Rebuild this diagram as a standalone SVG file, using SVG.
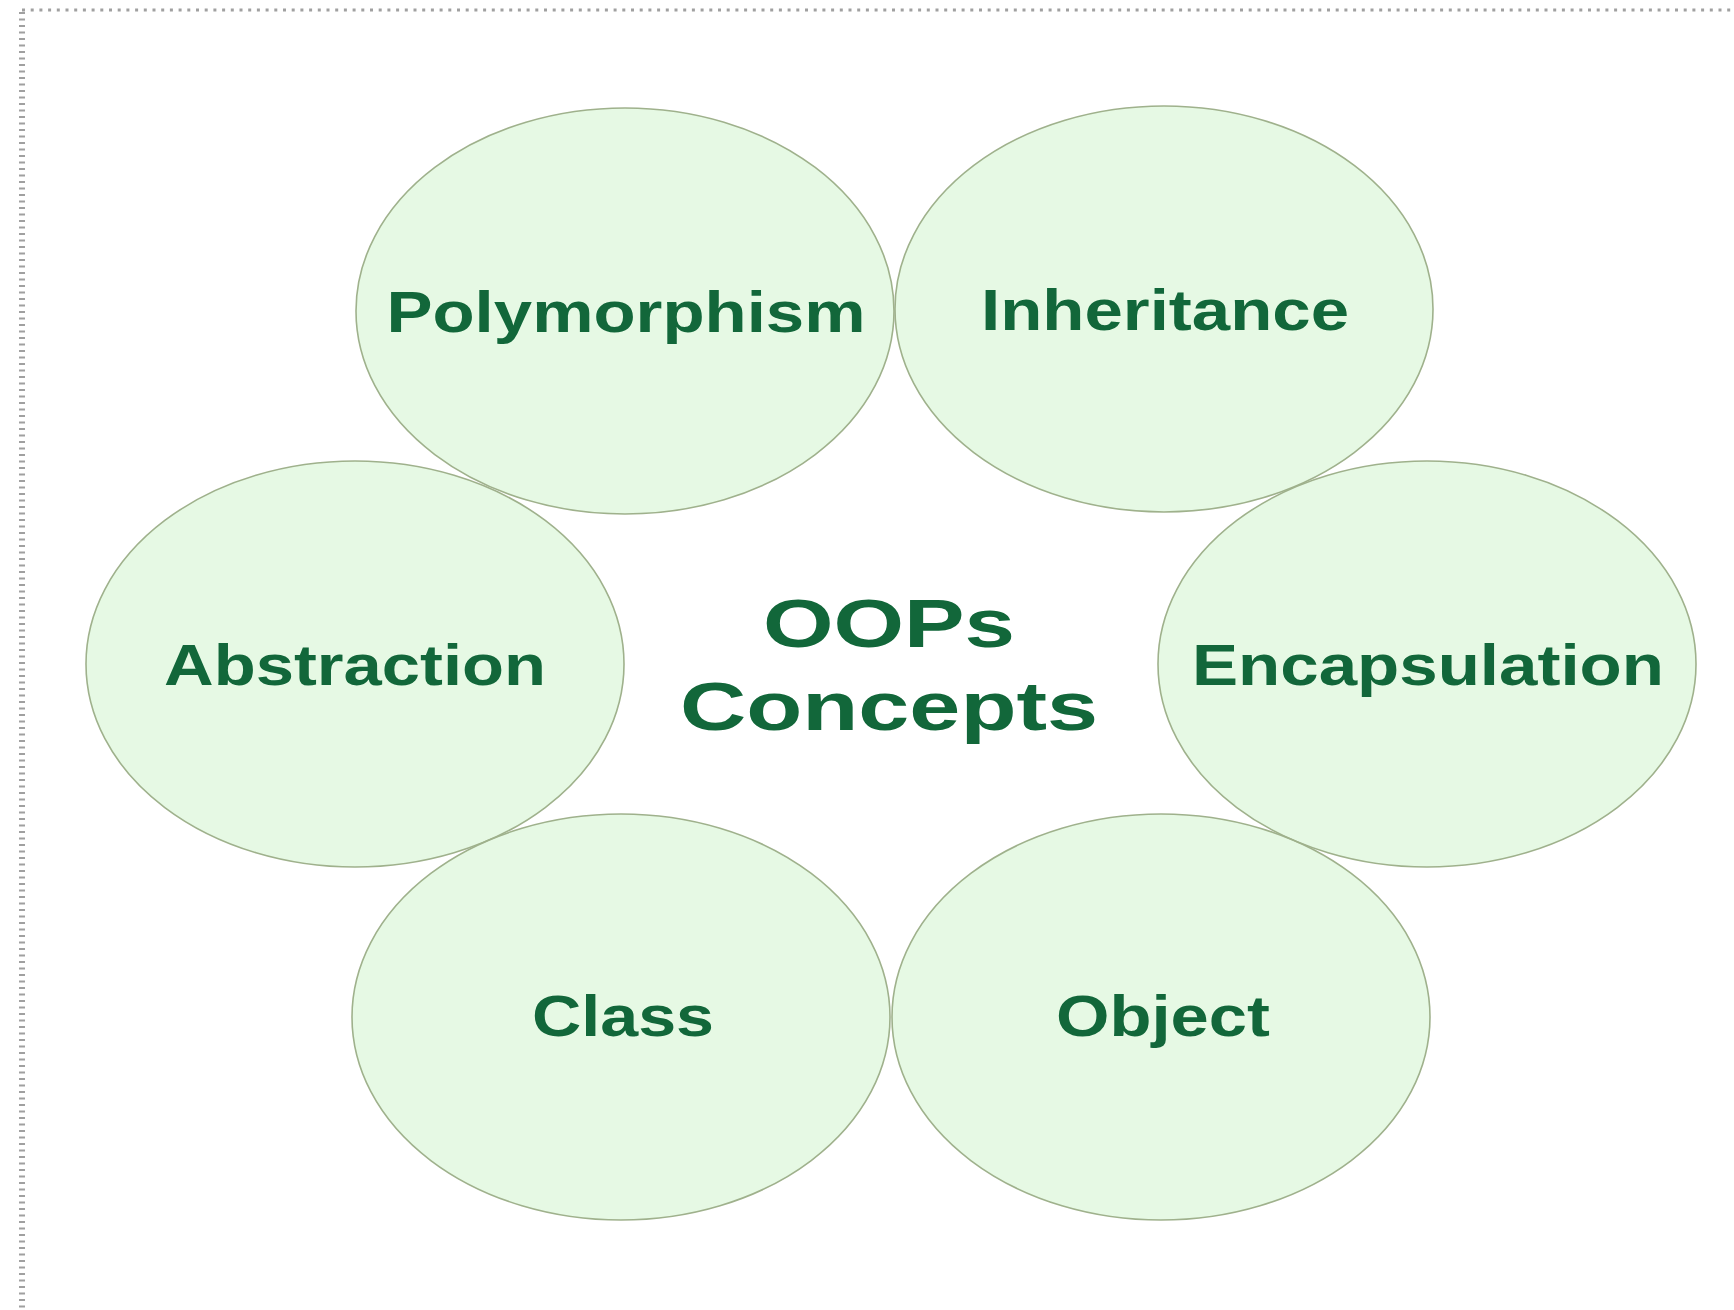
<svg xmlns="http://www.w3.org/2000/svg" width="1734" height="1310" viewBox="0 0 1734 1310">
<style>
.fill{fill:#e6f9e4;stroke:none}
.edge{fill:none;stroke:#9fb18c;stroke-width:1.6}
.lbl{font-family:"Liberation Sans",Arial,sans-serif;font-weight:bold;fill:#12673a;text-anchor:middle}
.n{font-size:57px}
.c{font-size:69px}
</style>
<rect width="1734" height="1310" fill="#ffffff"/>
<g id="frame">
<line x1="22" y1="10" x2="1734" y2="10" stroke="#a0a0a0" stroke-width="3" stroke-dasharray="3 5.7"/>
<line x1="22" y1="12" x2="22" y2="1310" stroke="#a0a0a0" stroke-width="6" stroke-dasharray="2 4.5"/>
</g>
<g id="fills">
<ellipse class="fill" cx="625" cy="311" rx="269" ry="203"/>
<ellipse class="fill" cx="1164" cy="309" rx="269" ry="203"/>
<ellipse class="fill" cx="355" cy="664" rx="269" ry="203"/>
<ellipse class="fill" cx="1427" cy="664" rx="269" ry="203"/>
<ellipse class="fill" cx="621" cy="1017" rx="269" ry="203"/>
<ellipse class="fill" cx="1161" cy="1017" rx="269" ry="203"/>
</g>
<g id="connectors"></g>
<g id="polymorphism">
<ellipse class="edge" cx="625" cy="311" rx="269" ry="203"/>
<text class="lbl n" x="626" y="332" textLength="479" lengthAdjust="spacingAndGlyphs">Polymorphism</text>
</g>
<g id="inheritance">
<ellipse class="edge" cx="1164" cy="309" rx="269" ry="203"/>
<text class="lbl n" x="1165" y="330" textLength="368" lengthAdjust="spacingAndGlyphs">Inheritance</text>
</g>
<g id="abstraction">
<ellipse class="edge" cx="355" cy="664" rx="269" ry="203"/>
<text class="lbl n" x="355" y="685" textLength="382" lengthAdjust="spacingAndGlyphs">Abstraction</text>
</g>
<g id="encapsulation">
<ellipse class="edge" cx="1427" cy="664" rx="269" ry="203"/>
<text class="lbl n" x="1428" y="685" textLength="472" lengthAdjust="spacingAndGlyphs">Encapsulation</text>
</g>
<g id="class">
<ellipse class="edge" cx="621" cy="1017" rx="269" ry="203"/>
<text class="lbl n" x="623" y="1036" textLength="182" lengthAdjust="spacingAndGlyphs">Class</text>
</g>
<g id="object">
<ellipse class="edge" cx="1161" cy="1017" rx="269" ry="203"/>
<text class="lbl n" x="1163" y="1036" textLength="214" lengthAdjust="spacingAndGlyphs">Object</text>
</g>
<g id="center">
<text class="lbl c" x="889" y="647" textLength="252" lengthAdjust="spacingAndGlyphs">OOPs</text>
<text class="lbl c" x="889" y="730" textLength="418" lengthAdjust="spacingAndGlyphs">Concepts</text>
</g>
</svg>
